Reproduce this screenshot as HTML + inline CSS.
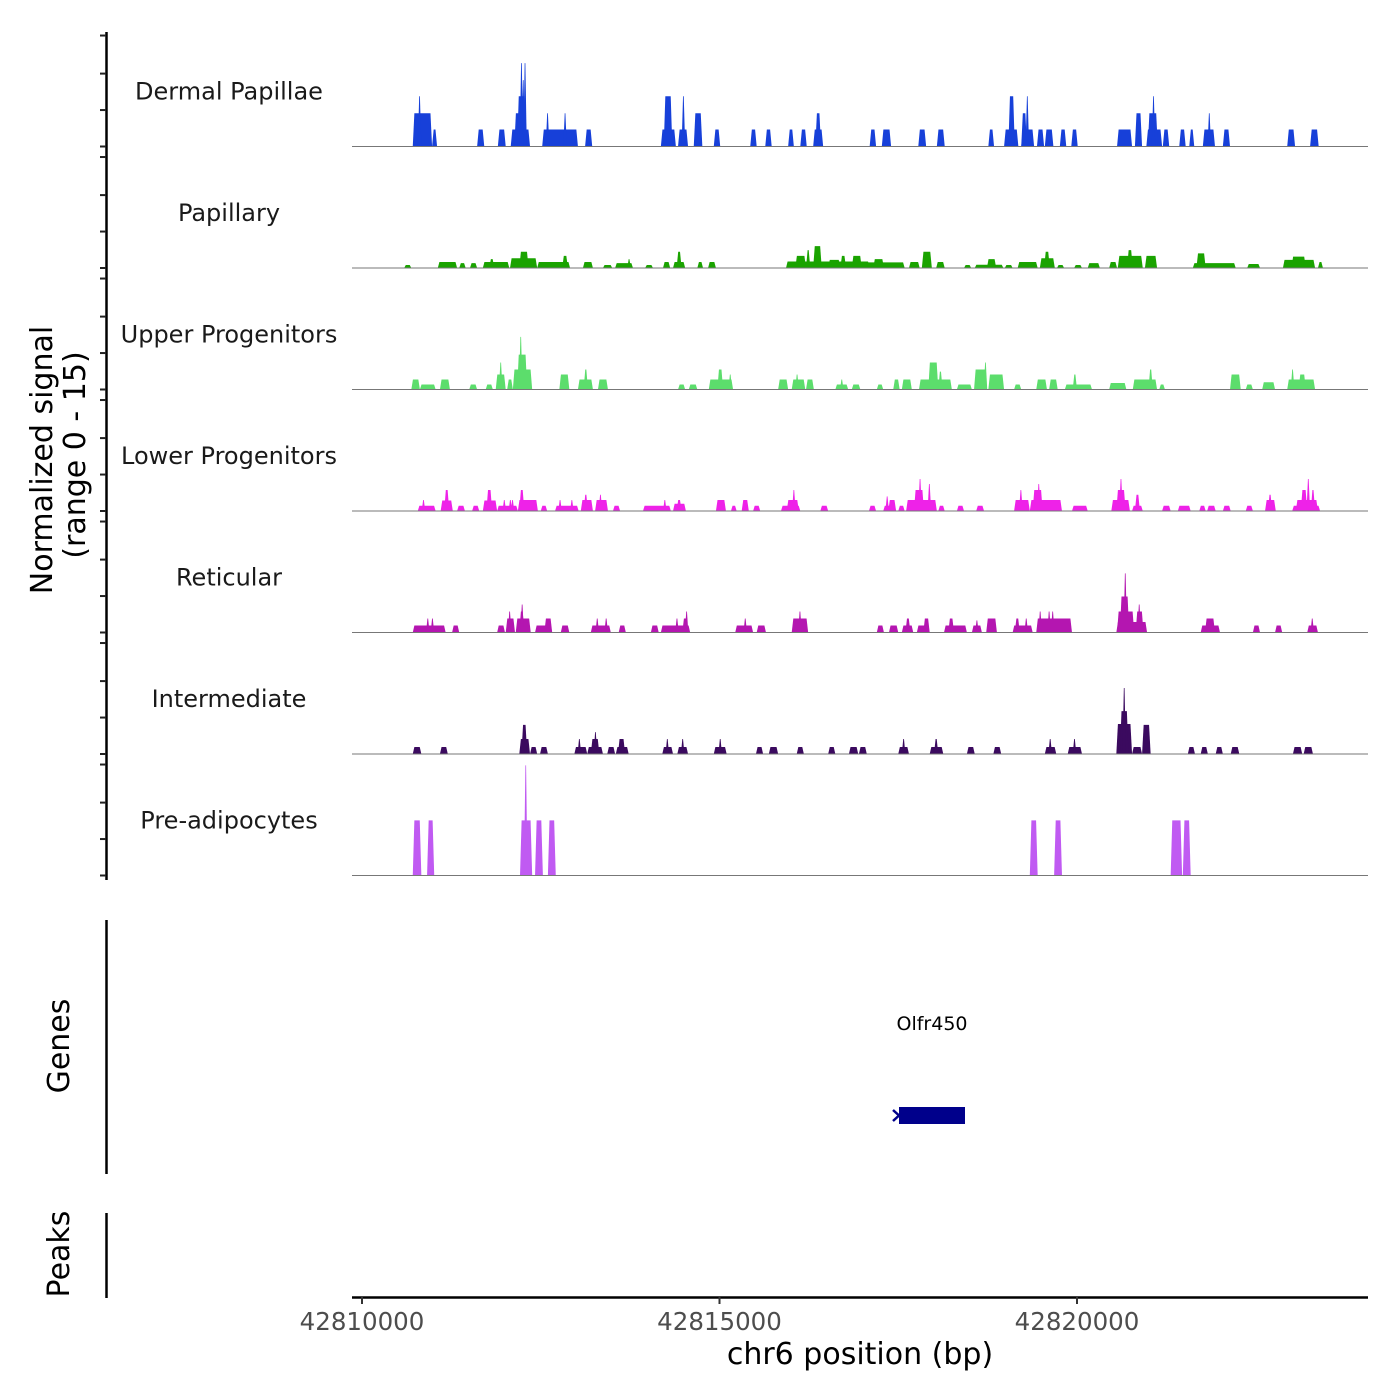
<!DOCTYPE html>
<html><head><meta charset="utf-8"><style>
html,body{margin:0;padding:0;background:#fff;}
svg{display:block;font-family:"DejaVu Sans","Liberation Sans",sans-serif;}
</style></head><body>
<svg id="chart" width="1400" height="1400" viewBox="0 0 1400 1400" xmlns="http://www.w3.org/2000/svg">
<rect width="1400" height="1400" fill="#fff"/>
<g id="tracks"></g>
<g id="yaxis"></g>
<text transform="translate(52,460) rotate(-90)" text-anchor="middle" font-size="30" fill="#000">Normalized signal</text>
<text transform="translate(85,455) rotate(-90)" text-anchor="middle" font-size="30" fill="#000">(range 0 - 15)</text>
<line x1="106.5" y1="920" x2="106.5" y2="1174" stroke="#000" stroke-width="2.5"/>
<text transform="translate(69,1046) rotate(-90)" text-anchor="middle" font-size="30" fill="#000">Genes</text>
<line x1="106.5" y1="1213" x2="106.5" y2="1298" stroke="#000" stroke-width="2.5"/>
<text transform="translate(69,1254) rotate(-90)" text-anchor="middle" font-size="30" fill="#000">Peaks</text>
<g>
<text x="932" y="1030" text-anchor="middle" font-size="19" fill="#000">Olfr450</text>
<rect x="899" y="1107" width="66" height="17" fill="#00008b"/>
<path d="M893,1110 L899,1115.5 L893,1121" stroke="#00008b" stroke-width="2.5" fill="none"/>
</g>
<g id="xaxis"></g>
<text x="860" y="1364" text-anchor="middle" font-size="30" fill="#000">chr6 position (bp)</text>
</svg>
<script>
// x-axis ticks (bp)
const xTicks = [42810000, 42815000, 42820000];
// track names
const trackNames = ["Dermal Papillae","Papillary","Upper Progenitors","Lower Progenitors","Reticular","Intermediate","Pre-adipocytes"];
const trackColors = ["#1740d9","#1aa300","#5cdd6c","#ee22e8","#b416b0","#3b0a5f","#c05af2"];
// signal blocks per track: [start kb offset from 42,810,000, end kb offset, signal value 0-15]
const dermalPapillae = [[0.71,0.98,4.1],[0.78,0.83,6.2],[0.98,1.05,2.1],[1.61,1.71,2.1],[1.90,2.01,2.1],[2.08,2.35,2.1],[2.13,2.31,4.1],[2.17,2.29,6.2],[2.22,2.24,10.3],[2.24,2.27,8.2],[2.27,2.29,10.3],[2.52,3.02,2.1],[2.57,2.62,4.1],[2.82,2.86,4.1],[3.12,3.22,2.1],[4.18,4.39,2.1],[4.22,4.34,6.2],[4.42,4.56,2.1],[4.47,4.52,6.2],[4.64,4.76,4.1],[4.92,5.01,2.1],[5.43,5.52,2.1],[5.64,5.73,2.1],[5.96,6.04,2.1],[6.13,6.22,2.1],[6.31,6.45,2.1],[6.34,6.42,4.1],[7.10,7.19,2.1],[7.27,7.40,2.1],[7.78,7.89,2.1],[8.04,8.15,2.1],[8.76,8.84,2.1],[8.98,9.18,2.1],[9.04,9.13,6.2],[9.22,9.40,2.1],[9.22,9.30,4.1],[9.29,9.32,6.2],[9.44,9.54,2.1],[9.55,9.67,2.1],[9.76,9.85,2.1],[9.92,10.01,2.1],[10.56,10.77,2.1],[10.81,10.91,4.1],[10.97,11.19,2.1],[10.99,11.13,4.1],[11.05,11.09,6.2],[11.20,11.29,2.1],[11.43,11.52,2.1],[11.57,11.64,2.1],[11.76,11.93,2.1],[11.83,11.87,4.1],[12.04,12.14,2.1],[12.94,13.05,2.1],[13.26,13.38,2.1]];
const papillary = [[0.59,0.69,0.37],[1.06,1.33,0.74],[1.36,1.45,0.6],[1.51,1.61,0.6],[1.69,2.06,0.74],[1.78,1.85,1.1],[2.07,2.45,1.2],[2.2,2.33,2.0],[2.45,2.91,0.74],[2.80,2.88,1.5],[3.09,3.23,0.74],[3.37,3.50,0.37],[3.54,3.79,0.6],[3.71,3.76,1.1],[3.96,4.07,0.37],[4.21,4.31,0.74],[4.35,4.52,0.74],[4.40,4.47,2.0],[4.69,4.77,0.74],[4.84,4.95,0.74],[5.93,7.10,0.8],[6.06,6.21,1.5],[6.21,6.27,2.2],[6.31,6.43,2.7],[6.52,6.69,1.0],[6.69,6.77,1.5],[6.85,6.99,1.5],[6.97,7.59,0.7],[7.15,7.30,1.1],[7.65,7.80,0.74],[7.83,7.97,2.0],[8.03,8.15,0.74],[8.42,8.52,0.37],[8.57,8.97,0.4],[8.74,8.87,1.1],[8.99,9.10,0.37],[9.17,9.45,0.74],[9.48,9.69,1.2],[9.54,9.62,2.0],[9.72,9.82,0.37],[9.96,10.07,0.37],[10.15,10.32,0.6],[10.45,10.56,0.74],[10.57,10.92,1.5],[10.70,10.78,2.2],[10.95,11.12,1.5],[11.62,12.22,0.6],[11.67,11.80,1.8],[12.38,12.56,0.5],[12.88,13.33,1.0],[13.0,13.2,1.4],[13.37,13.44,0.74]];
const upperProgenitors = [[0.69,0.81,1.23],[0.81,1.03,0.62],[1.09,1.23,1.23],[1.50,1.61,0.62],[1.73,1.83,0.62],[1.87,2.01,1.85],[1.92,1.96,3.33],[2.03,2.11,1.23],[2.11,2.38,2.47],[2.17,2.31,4.3],[2.20,2.24,6.5],[2.76,2.90,1.85],[3.02,3.23,1.23],[3.10,3.16,2.47],[3.30,3.44,1.23],[4.42,4.52,0.62],[4.57,4.69,0.62],[4.85,5.19,1.23],[4.97,5.05,2.47],[5.13,5.17,1.85],[5.82,5.96,1.23],[6.01,6.20,1.23],[6.06,6.11,1.85],[6.21,6.32,1.23],[6.62,6.80,0.62],[6.69,6.73,1.23],[6.85,6.97,0.62],[7.20,7.29,0.62],[7.43,7.52,1.23],[7.55,7.69,1.23],[7.79,8.25,1.23],[7.92,8.06,3.33],[8.06,8.12,2.2],[8.32,8.53,0.62],[8.56,8.74,2.47],[8.71,8.73,3.33],[8.76,8.98,1.85],[9.12,9.22,0.62],[9.43,9.58,1.23],[9.61,9.73,1.23],[9.83,10.21,0.62],[9.94,10.0,1.85],[10.45,10.69,0.8],[10.78,11.12,1.23],[11.0,11.06,2.47],[11.15,11.23,0.62],[12.14,12.29,1.85],[12.36,12.46,0.62],[12.59,12.77,0.9],[12.94,13.33,1.23],[12.99,13.04,2.47],[13.1,13.2,1.85]];
const lowerProgenitors = [[0.78,1.03,0.65],[0.84,0.88,1.36],[1.10,1.27,1.3],[1.15,1.22,2.6],[1.33,1.44,0.65],[1.54,1.64,0.65],[1.69,1.89,1.3],[1.74,1.82,2.6],[1.89,2.18,0.65],[1.98,2.0,1.36],[2.06,2.09,1.36],[2.09,2.12,1.36],[2.18,2.46,1.36],[2.20,2.27,2.6],[2.50,2.59,0.65],[2.70,3.03,0.65],[2.75,2.79,1.36],[2.92,2.95,1.36],[3.06,3.23,1.36],[3.10,3.16,2.0],[3.26,3.44,1.36],[3.31,3.36,2.0],[3.51,3.61,0.65],[3.93,4.32,0.65],[4.22,4.25,1.36],[4.35,4.53,0.9],[4.4,4.47,1.36],[4.95,5.09,1.36],[5.16,5.24,0.65],[5.31,5.41,1.36],[5.47,5.57,0.65],[5.86,6.13,0.65],[5.94,6.11,1.36],[6.02,6.06,2.6],[6.41,6.52,0.65],[7.09,7.19,0.65],[7.29,7.47,0.65],[7.33,7.36,1.8],[7.36,7.47,1.36],[7.50,7.59,0.65],[7.61,8.04,1.36],[7.72,7.86,2.6],[7.78,7.83,3.95],[7.91,7.96,3.33],[8.06,8.15,0.65],[8.32,8.42,0.65],[8.59,8.70,0.65],[9.12,9.34,1.36],[9.19,9.24,2.6],[9.34,9.79,1.36],[9.38,9.52,2.6],[9.45,9.48,3.33],[9.93,10.15,0.65],[10.48,10.74,1.36],[10.55,10.68,2.6],[10.60,10.63,3.95],[10.77,10.92,0.65],[10.81,10.88,2.0],[11.19,11.31,0.65],[11.41,11.59,0.65],[11.71,11.80,0.65],[11.82,11.94,0.65],[12.04,12.15,0.65],[12.36,12.46,0.65],[12.63,12.78,1.36],[12.67,12.73,2.0],[13.01,13.40,0.65],[13.06,13.37,1.36],[13.13,13.22,2.6],[13.21,13.26,3.95],[13.27,13.33,2.6]];
const reticular = [[0.71,1.17,0.86],[0.91,0.93,1.73],[0.97,1.0,1.73],[1.26,1.36,0.86],[1.89,2.0,0.86],[2.01,2.14,1.73],[2.05,2.08,2.6],[2.15,2.36,1.73],[2.2,2.27,2.6],[2.23,2.25,3.45],[2.42,2.66,0.86],[2.55,2.66,1.73],[2.78,2.90,0.86],[3.20,3.48,0.86],[3.27,3.31,1.73],[3.39,3.44,1.73],[3.59,3.69,0.86],[4.04,4.15,0.86],[4.18,4.59,0.86],[4.38,4.43,1.73],[4.48,4.56,1.73],[4.53,4.55,2.6],[5.22,5.47,0.86],[5.34,5.38,1.73],[5.52,5.65,0.86],[6.01,6.24,1.73],[6.10,6.15,2.6],[7.20,7.30,0.86],[7.37,7.50,0.86],[7.55,7.71,0.86],[7.6,7.67,1.73],[7.76,7.94,0.86],[7.85,7.94,1.73],[8.14,8.46,0.86],[8.2,8.28,1.73],[8.53,8.67,0.86],[8.58,8.62,1.5],[8.73,8.88,1.73],[9.10,9.38,0.86],[9.13,9.2,1.73],[9.27,9.31,1.73],[9.43,9.93,1.73],[9.47,9.5,2.6],[9.6,9.62,2.6],[9.65,9.67,2.6],[10.55,10.98,1.3],[10.56,10.8,2.6],[10.60,10.73,4.45],[10.66,10.69,7.3],[10.82,10.93,2.6],[10.85,10.89,3.45],[11.73,12.0,0.86],[11.79,11.93,1.73],[12.46,12.56,0.86],[12.77,12.87,0.86],[13.22,13.37,0.86],[13.27,13.31,1.73]];
const intermediate = [[0.71,0.83,0.86],[1.09,1.20,0.86],[2.20,2.35,1.85],[2.23,2.31,3.6],[2.35,2.45,0.86],[2.49,2.60,0.86],[2.97,3.15,0.86],[3.03,3.05,1.85],[3.15,3.37,0.86],[3.2,3.32,1.85],[3.25,3.28,2.7],[3.43,3.54,0.86],[3.55,3.73,0.86],[3.58,3.68,1.85],[4.20,4.35,0.86],[4.25,4.29,1.85],[4.41,4.56,0.86],[4.47,4.50,1.85],[4.92,5.10,0.86],[4.99,5.03,1.85],[5.51,5.61,0.86],[5.69,5.82,0.86],[6.08,6.18,0.86],[6.52,6.62,0.86],[6.81,6.94,0.86],[6.95,7.06,0.86],[7.50,7.65,0.86],[7.55,7.6,1.85],[7.94,8.13,0.86],[8.0,8.06,1.85],[8.46,8.57,0.86],[8.83,8.94,0.86],[9.55,9.71,0.86],[9.60,9.65,1.85],[9.87,10.07,0.86],[9.94,9.99,1.85],[10.55,10.77,3.7],[10.60,10.72,5.3],[10.65,10.67,8.15],[10.77,10.91,0.86],[10.91,11.03,3.6],[11.55,11.65,0.86],[11.73,11.83,0.86],[11.94,12.04,0.86],[12.15,12.27,0.86],[13.02,13.15,0.86],[13.17,13.30,0.86]];
const preAdipocytes = [[0.71,0.83,6.8],[0.91,1.01,6.8],[2.21,2.38,6.8],[2.27,2.31,13.6],[2.42,2.53,6.8],[2.60,2.71,6.8],[9.34,9.45,6.8],[9.68,9.79,6.8],[11.31,11.47,6.8],[11.48,11.59,6.8]];
const allTracks = [dermalPapillae, papillary, upperProgenitors, lowerProgenitors, reticular, intermediate, preAdipocytes];

const NS = "http://www.w3.org/2000/svg";
const plotLeft = 352, plotRight = 1368;
const firstBaseline = 146.5, trackStep = 121.5;
function xScale(bp){ return 362 + (bp - 42810000) * (357.5 / 5000); }
function kbToX(kb){ return xScale(42810000 + kb * 1000); }
function yScale(v, t){ return firstBaseline + t * trackStep - v * (trackStep / 15); }
function mk(tag, parent){ const e = document.createElementNS(NS, tag); parent.appendChild(e); return e; }

const tracksG = document.getElementById('tracks');
allTracks.forEach((blocks, t) => {
  const g = mk('g', tracksG);
  
  
  const label = mk('text', g);
  
  
  label.setAttribute('x', 229);
  label.setAttribute('y', yScale(0, t) - 47);
  label.setAttribute('text-anchor', 'middle');
  label.setAttribute('font-size', '24');
  label.setAttribute('fill', '#1a1a1a');
  label.textContent = trackNames[t];
  const sorted = blocks.slice().sort((a, b) => a[2] - b[2]);
  const base = yScale(0, t);
  const slope = 1.6;
  sorted.forEach(b => {
    let x0 = kbToX(b[0]), x1 = kbToX(b[1]);
    if (x1 - x0 < 3.5) { const c = (x0 + x1) / 2; x0 = c - 1.75; x1 = c + 1.75; }
    const top = yScale(b[2], t);
    const s = Math.min(slope, (x1 - x0) / 2.5);
    const p = mk('polygon', g);
    
    
    p.setAttribute('points', `${x0},${base} ${x0 + s},${top} ${x1 - s},${top} ${x1},${base}`);
    p.setAttribute('fill', trackColors[t]);
  });
  const bl = mk('line', g);
  
  
  bl.setAttribute('x1', plotLeft); bl.setAttribute('x2', plotRight);
  bl.setAttribute('y1', base); bl.setAttribute('y2', base);
  bl.setAttribute('stroke', '#777'); bl.setAttribute('stroke-width', '1');
});

// y axis
const yaxis = document.getElementById('yaxis');
const axLine = mk('line', yaxis);


axLine.setAttribute('x1', 106.5); axLine.setAttribute('x2', 106.5);
axLine.setAttribute('y1', 32); axLine.setAttribute('y2', 880);
axLine.setAttribute('stroke', '#000'); axLine.setAttribute('stroke-width', '2.5');
const yTickVals = [0, 4.5, 9, 13.7];
for (let t = 0; t < 7; t++) {
  yTickVals.forEach(v => {
    const y = yScale(v, t);
    const tk = mk('line', yaxis);
    
    
    tk.setAttribute('x1', 100); tk.setAttribute('x2', 106);
    tk.setAttribute('y1', y); tk.setAttribute('y2', y);
    tk.setAttribute('stroke', '#222'); tk.setAttribute('stroke-width', '2');
  });
}

// x axis
const xaxis = document.getElementById('xaxis');
const xl = mk('line', xaxis);


xl.setAttribute('x1', plotLeft); xl.setAttribute('x2', plotRight);
xl.setAttribute('y1', 1297.5); xl.setAttribute('y2', 1297.5);
xl.setAttribute('stroke', '#000'); xl.setAttribute('stroke-width', '2.5');
xTicks.forEach(v => {
  const x = xScale(v);
  const tk = mk('line', xaxis);
  
  
  tk.setAttribute('x1', x); tk.setAttribute('x2', x);
  tk.setAttribute('y1', 1297); tk.setAttribute('y2', 1304);
  tk.setAttribute('stroke', '#333'); tk.setAttribute('stroke-width', '2');
  const lb = mk('text', xaxis);
  
  
  lb.setAttribute('x', x); lb.setAttribute('y', 1330);
  lb.setAttribute('text-anchor', 'middle');
  lb.setAttribute('font-size', '24.5');
  lb.setAttribute('fill', '#4d4d4d');
  lb.textContent = String(v);
});
</script>
</body></html>
